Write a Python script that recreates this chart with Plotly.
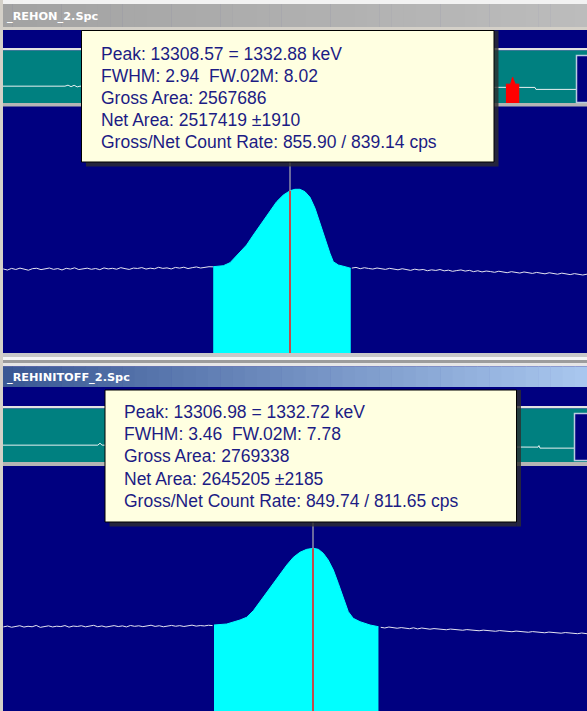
import numpy as np
import plotly.graph_objects as go

W, H = 587, 711

# ---------------- data ----------------
top_title = "_REHON_2.Spc"
bot_title = "_REHINITOFF_2.Spc"

top_info = ["Peak: 13308.57 = 1332.88 keV",
            "FWHM: 2.94\u00a0\u00a0FW.02M: 8.02",
            "Gross Area: 2567686",
            "Net Area: 2517419 \u00b11910",
            "Gross/Net Count Rate: 855.90 / 839.14 cps"]
bot_info = ["Peak: 13306.98 = 1332.72 keV",
            "FWHM: 3.46\u00a0\u00a0FW.02M: 7.78",
            "Gross Area: 2769338",
            "Net Area: 2645205 \u00b12185",
            "Gross/Net Count Rate: 849.74 / 811.65 cps"]

top_cursor_ch = 13308.57
bot_cursor_ch = 13306.98

# top spectrum (counts per channel)
top_left_ch = np.arange(13172, 13273, 2)
top_left_cts = [712, 668, 735, 690, 748, 702, 661, 725, 741, 684,
                716, 752, 695, 728, 671, 739, 706, 760, 687, 722,
                745, 698, 731, 683, 756, 714, 739, 701, 768, 725,
                692, 749, 733, 771, 708, 745, 719, 784, 736, 758,
                712, 779, 747, 790, 728, 768, 801, 752, 786, 812, 805]
top_right_ch = np.arange(13338, 13451, 2)
top_right_cts = [748, 781, 722, 765, 733, 708, 752, 719, 694, 738,
                 702, 677, 721, 688, 655, 703, 669, 690, 641, 676,
                 652, 688, 637, 663, 619, 648, 672, 628, 655, 607,
                 640, 598, 629, 611, 584, 622, 593, 571, 606, 582,
                 559, 596, 566, 547, 580, 553, 534, 569, 541, 522,
                 556, 527, 510, 541, 515, 498, 523]
top_roi_ch = [13272.0, 13276.8, 13280.0, 13282.4, 13284.8, 13287.9, 13291.1, 13295.1,
              13298.2, 13302.2, 13305.4, 13308.6, 13310.9, 13313.3, 13315.7, 13318.1,
              13320.5, 13322.9, 13325.2, 13327.6, 13329.2, 13331.6, 13334.8, 13337.5]
top_roi_cts = [813, 862, 1028, 1415, 1855, 2923, 5272, 10500,
               18930, 37580, 55720, 71780, 77980, 77980, 67740, 48640,
               25420, 10500, 3925, 1791, 1091, 899, 813, 740]

# bottom spectrum
bot_left_ch = np.arange(13156, 13259, 2)
bot_left_cts = [1498, 1561, 1472, 1532, 1589, 1486, 1545, 1508, 1612, 1467,
                1539, 1578, 1495, 1552, 1521, 1601, 1478, 1563, 1530, 1587,
                1502, 1548, 1619, 1511, 1570, 1489, 1556, 1596, 1523, 1574,
                1497, 1608, 1541, 1583, 1516, 1562, 1627, 1534, 1588, 1508,
                1569, 1612, 1547, 1595, 1529, 1581, 1634, 1556, 1602, 1571,
                1623, 1598]
bot_right_ch = np.arange(13340, 13443, 2)
bot_right_cts = [1468, 1421, 1489, 1452, 1402, 1447, 1385, 1371, 1432, 1356,
                 1418, 1394, 1338, 1379, 1361, 1322, 1301, 1346, 1328, 1289,
                 1270, 1311, 1297, 1256, 1238, 1276, 1262, 1224, 1207, 1249,
                 1231, 1193, 1180, 1218, 1201, 1163, 1150, 1188, 1172, 1137,
                 1121, 1160, 1146, 1109, 1098, 1133, 1121, 1086, 1071, 1108,
                 1094, 1049]
bot_roi_ch = [13258.7, 13264.9, 13271.4, 13274.6, 13277.9, 13281.1, 13284.4, 13287.6,
              13290.9, 13294.2, 13297.4, 13300.6, 13303.9, 13307.2, 13309.6, 13312.0,
              13314.4, 13316.9, 13319.3, 13321.8, 13324.2, 13326.6, 13329.9, 13334.8, 13338.9]
bot_roi_cts = [1645, 1729, 2107, 2408, 3337, 5207, 8535, 13310,
               21190, 31920, 46750, 59840, 69350, 72950, 69350, 56980,
               40930, 24950, 12920, 6166, 3177, 2291, 1937, 1645, 1514]

# overview strips (whole spectrum, compressed)
ov_top_ch = [0, 1620, 1700, 1780, 1860, 1940, 2013, 7000, 12941, 13909, 13935, 15268]
ov_top_cts = [176, 176, 239, 150, 230, 140, 176, 150, 119, 119, 65, 65]
ov_top_roi_ch = [13150, 13273, 13300, 13325, 13350, 13393, 13498]
ov_top_roi_cts = [324, 324, 1096, 2722, 1096, 324, 324]
ov_bot_ch = [0, 2480, 2536, 2590, 8000, 13569, 13990, 14013, 14040, 15268]
ov_bot_cts = [160, 160, 291, 160, 120, 88, 88, 140, 65, 65]

# ---------------- style ----------------
NAVY = "#000080"
TEAL = "#008080"
CYAN = "#00FFFF"
NOISE = "#e4e4f0"
TIP_BG = "#FFFFE1"
TIP_TXT = "#1c1c84"
FRAME = "#d4d0c8"

TOP_X_RANGE = [13171.9, 13450.0]
TOP_Y_RANGE = [0.7, 7.0]
BOT_X_RANGE = [13155.8, 13440.6]
BOT_Y_RANGE = [1.37, 6.63]
OV_X_RANGE = [0, 15270]
OV_Y_RANGE = [0, 7]


def X(px):
    return px / W


def Y(py):
    return 1 - py / H


fig = go.Figure()


def add_spectrum(xa, ya, lch, lct, rch, rct, roich, roicts, cursor, yr):
    for cx, cy in ((lch, lct), (rch, rct)):
        fig.add_trace(go.Scatter(x=cx, y=cy, xaxis=xa, yaxis=ya, mode="lines",
                                 line=dict(color=NOISE, width=1), hoverinfo="skip"))
    fig.add_trace(go.Scatter(x=roich, y=roicts, xaxis=xa, yaxis=ya, mode="lines",
                             fill="tozeroy", fillcolor=CYAN,
                             line=dict(color=CYAN, width=1), hoverinfo="skip"))
    hit = 10 ** np.interp(cursor, roich, np.log10(roicts))
    fig.add_trace(go.Scatter(x=[cursor, cursor], y=[10 ** (yr[0] - 1), hit], xaxis=xa, yaxis=ya,
                             mode="lines", line=dict(color="#ff1010", width=1.5), hoverinfo="skip"))
    fig.add_trace(go.Scatter(x=[cursor, cursor], y=[hit, 10 ** (yr[1] + 1)], xaxis=xa, yaxis=ya,
                             mode="lines", line=dict(color="#b0b0b0", width=1.2), hoverinfo="skip"))


add_spectrum("x", "y", top_left_ch, top_left_cts, top_right_ch, top_right_cts,
             top_roi_ch, top_roi_cts, top_cursor_ch, TOP_Y_RANGE)
add_spectrum("x2", "y2", bot_left_ch, bot_left_cts, bot_right_ch, bot_right_cts,
             bot_roi_ch, bot_roi_cts, bot_cursor_ch, BOT_Y_RANGE)

fig.add_trace(go.Scatter(x=ov_top_ch, y=ov_top_cts, xaxis="x3", yaxis="y3", mode="lines",
                         line=dict(color="#e8f0f0", width=1), hoverinfo="skip"))
fig.add_trace(go.Scatter(x=ov_top_roi_ch, y=ov_top_roi_cts, xaxis="x3", yaxis="y3", mode="lines",
                         fill="tozeroy", fillcolor="#ff0000", line=dict(color="#ff0000", width=1),
                         hoverinfo="skip"))
fig.add_trace(go.Scatter(x=ov_bot_ch, y=ov_bot_cts, xaxis="x4", yaxis="y4", mode="lines",
                         line=dict(color="#e8f0f0", width=1), hoverinfo="skip"))

shapes = []


def rect(x0, y0, x1, y1, fill, layer="above", line=None):
    d = dict(type="rect", xref="paper", yref="paper", x0=X(x0), x1=X(x1), y0=Y(y1), y1=Y(y0),
             fillcolor=fill, layer=layer, line=dict(width=0))
    if line:
        d["line"] = line
    shapes.append(d)


def hexrgb(h):
    h = h.lstrip("#")
    return [int(h[i:i + 2], 16) for i in (0, 2, 4)]


def gradient(x0, y0, x1, y1, c0, c1, n=48):
    a, b = hexrgb(c0), hexrgb(c1)
    for i in range(n):
        t = i / (n - 1)
        col = "rgb(%d,%d,%d)" % tuple(round(a[k] + (b[k] - a[k]) * t) for k in range(3))
        xa = x0 + (x1 - x0) * i / n
        xb = x0 + (x1 - x0) * (i + 1) / n + 0.6
        rect(xa, y0, xb, y1, col)


# overview strips (below traces)
rect(3, 48, 587, 50.5, "#e2e2e2", layer="below")
rect(3, 50.5, 587, 103, TEAL, layer="below")
rect(3, 103, 587, 106.5, "#b4b4b4", layer="below")
rect(3, 406, 587, 408.5, "#e2e2e2", layer="below")
rect(3, 408.5, 587, 462, TEAL, layer="below")
rect(3, 462, 587, 466, "#b4b4b4", layer="below")

# overview window boxes
rect(576.5, 55.5, 590, 102.5, NAVY, line=dict(color="#b8cce0", width=1.5))
rect(574.5, 413.5, 590, 460.5, NAVY, line=dict(color="#b8cce0", width=1.5))

# window frames
rect(0, 0, 587, 4, "#f2f2f2")
gradient(0, 4, 587, 27, "#a2a2a2", "#bcbcbc")
rect(0, 27, 587, 30, FRAME)
rect(0, 353, 587, 357, "#c8c8c8")
rect(0, 357, 587, 360, "#f6f6f6")
rect(0, 360, 587, 363, "#9c9c9c")
rect(0, 363, 587, 366.5, "#e6e6e6")
gradient(0, 366.5, 587, 387, "#3a5894", "#a8c6ee")
rect(0, 0, 3, 711, FRAME)

# tooltips
for (x0, y0, x1, y1) in ((81.5, 30.5, 494, 162), (105, 390, 516.5, 522)):
    rect(x1, y0, x1 + 4.5, y1 + 4.5, "rgba(45,45,45,0.8)")
    rect(x0 + 4.5, y1, x1, y1 + 4.5, "rgba(45,45,45,0.8)")
    rect(x0, y0, x1, y1, TIP_BG, line=dict(color="#000000", width=1))

annotations = []
for txt, ty in ((top_title, 16), (bot_title, 377)):
    annotations.append(dict(x=X(5), y=Y(ty), xref="paper", yref="paper", text=txt,
                            showarrow=False, xanchor="left", yanchor="middle",
                            font=dict(family="DejaVu Sans", size=11.3, color="white", weight="bold")))
for lines, tx, ty0 in ((top_info, 99, 53.5), (bot_info, 122, 412)):
    for i, t in enumerate(lines):
        annotations.append(dict(x=X(tx), y=Y(ty0 + i * 22.2), xref="paper", yref="paper", text=t,
                                showarrow=False, xanchor="left", yanchor="middle",
                                font=dict(family="Liberation Sans, Arial", size=17.5, color=TIP_TXT)))

fig.update_layout(
    width=W, height=H, autosize=False,
    margin=dict(l=0, r=0, t=0, b=0, pad=0),
    paper_bgcolor=NAVY, plot_bgcolor="rgba(0,0,0,0)",
    showlegend=False,
    xaxis=dict(domain=[X(3), 1], range=TOP_X_RANGE, visible=False, anchor="y", fixedrange=True),
    yaxis=dict(domain=[Y(353), Y(107)], type="log", range=TOP_Y_RANGE, visible=False, anchor="x",
               fixedrange=True),
    xaxis2=dict(domain=[X(3), 1], range=BOT_X_RANGE, visible=False, anchor="y2", fixedrange=True),
    yaxis2=dict(domain=[0, Y(466)], type="log", range=BOT_Y_RANGE, visible=False, anchor="x2",
                fixedrange=True),
    xaxis3=dict(domain=[X(3), 1], range=OV_X_RANGE, visible=False, anchor="y3", fixedrange=True),
    yaxis3=dict(domain=[Y(103), Y(50.5)], type="log", range=OV_Y_RANGE, visible=False, anchor="x3",
                fixedrange=True),
    xaxis4=dict(domain=[X(3), 1], range=OV_X_RANGE, visible=False, anchor="y4", fixedrange=True),
    yaxis4=dict(domain=[Y(462), Y(408.5)], type="log", range=OV_Y_RANGE, visible=False, anchor="x4",
                fixedrange=True),
    shapes=shapes,
    annotations=annotations,
)

fig.write_html("out.html", config=dict(displayModeBar=False),
               post_script="document.body.style.margin='0';document.body.style.overflow='hidden';")
